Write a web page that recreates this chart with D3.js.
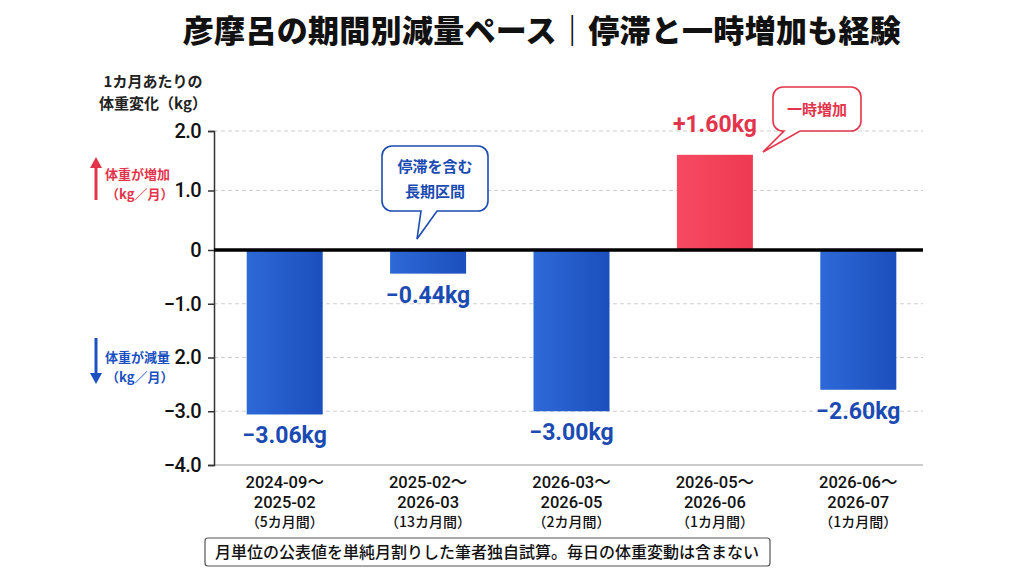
<!DOCTYPE html>
<html>
<head>
<meta charset="utf-8">
<script src="https://cdn.jsdelivr.net/npm/d3@7"></script>
<style>
  html, body { margin: 0; padding: 0; background: #fff; }
  svg { display: block; font-family: "Noto Sans CJK JP", "Noto Sans", sans-serif; }
</style>
</head>
<body>
<div id="chart"></div>
<script>
// periods (3 lines each) and per-month change
var periodStart = ["2024-09～", "2025-02～", "2026-03～", "2026-05～", "2026-06～"];
var periodEnd   = ["2025-02", "2026-03", "2026-05", "2026-06", "2026-07"];
var periodLen   = ["（5カ月間）", "（13カ月間）", "（2カ月間）", "（1カ月間）", "（1カ月間）"];
var changes     = [-3.06, -0.44, -3.00, 1.60, -2.60];
var valueLabels = ["−3.06kg", "−0.44kg", "−3.00kg", "+1.60kg", "−2.60kg"];
var tickValues  = [2, 1, 0, -1, -2, -3, -4];
var tickLabels  = ["2.0", "1.0", "0", "−1.0", "2.0", "−3.0", "−4.0"];

var width = 1024, height = 576;
var blueText = "#1b4bb2", redText = "#e2344b";

var svg = d3.select("#chart").append("svg")
  .attr("width", width)
  .attr("height", height);

var defs = svg.append("defs");
function grad(id, c1, c2){
  var g = defs.append("linearGradient").attr("id", id)
    .attr("x1", "0%").attr("x2", "100%").attr("y1", "0%").attr("y2", "0%");
  g.append("stop").attr("offset", "0%").attr("stop-color", c1);
  g.append("stop").attr("offset", "100%").attr("stop-color", c2);
}
grad("gBlue", "#2e69d8", "#1b4fbd");
grad("gRed", "#f64a62", "#ee3a52");

var x = d3.scaleBand()
  .domain(d3.range(changes.length))
  .range([213, 930])
  .paddingInner(0.47)
  .paddingOuter(0.235);

// chart is drawn with a different spacing above and below zero
var y = d3.scaleLinear()
  .domain([-4, 0, 2])
  .range([465, 250, 131]);

var plotLeft = 214, plotRight = 923;

// title
svg.append("text")
  .attr("x", 542).attr("y", 42)
  .attr("text-anchor", "middle")
  .style("font-size", "31px")
  .style("font-weight", 900)
  .style("letter-spacing", "0.3px")
  .attr("fill", "#111")
  .text("彦摩呂の期間別減量ペース｜停滞と一時増加も経験");

// axis title
var yt = svg.append("text")
  .attr("text-anchor", "middle")
  .style("font-size", "15px")
  .style("font-weight", 700)
  .attr("fill", "#222");
yt.append("tspan").attr("x", 153).attr("y", 87).text("1カ月あたりの");
yt.append("tspan").attr("x", 153).attr("y", 109).text("体重変化（kg）");

// grid lines
svg.append("g").selectAll("line")
  .data(tickValues.filter(function(d){ return d != 0 && d != -4; }))
  .enter().append("line")
  .attr("x1", plotLeft).attr("x2", plotRight)
  .attr("y1", function(d){ return y(d); })
  .attr("y2", function(d){ return y(d); })
  .attr("stroke", "#cfcfcf")
  .attr("stroke-dasharray", "4,3");

// bottom line
svg.append("line")
  .attr("x1", plotLeft).attr("x2", plotRight)
  .attr("y1", y(-4)).attr("y2", y(-4))
  .attr("stroke", "#999").attr("stroke-width", 1.2);

// y axis
var yAxis = d3.axisLeft(y)
  .tickValues(tickValues)
  .tickSize(6)
  .tickPadding(7)
  .tickFormat(function(d, i){ return tickLabels[i]; });

var ya = svg.append("g")
  .attr("transform", "translate(" + plotLeft + ",0)")
  .call(yAxis);
ya.select(".domain").attr("stroke", "#333").attr("stroke-width", 1.5);
ya.selectAll(".tick line").attr("stroke", "#333").attr("stroke-width", 1.5);
ya.selectAll(".tick text")
  .attr("fill", "#111")
  .style("font-size", "20px")
  .style("font-weight", 500)
  .style("letter-spacing", "-0.6px")
  .style("font-family", "Roboto, 'Noto Sans', sans-serif");

// bars
svg.append("g").selectAll("rect")
  .data(changes)
  .enter().append("rect")
  .attr("x", function(d, i){ return x(i); })
  .attr("width", x.bandwidth())
  .attr("y", function(d){ return y(Math.max(0, d)); })
  .attr("height", function(d){ return Math.abs(y(d) - y(0)); })
  .attr("fill", function(d){ return d > 0 ? "url(#gRed)" : "url(#gBlue)"; });

// zero line
svg.append("line")
  .attr("x1", plotLeft).attr("x2", plotRight)
  .attr("y1", y(0)).attr("y2", y(0))
  .attr("stroke", "#000").attr("stroke-width", 3.5);

// value labels
svg.append("g").selectAll("text")
  .data(changes)
  .enter().append("text")
  .attr("x", function(d, i){ return x(i) + x.bandwidth()/2; })
  .attr("y", function(d){ return d > 0 ? y(d) - 23 : y(d) + 29; })
  .attr("text-anchor", "middle")
  .style("font-size", "23px")
  .style("font-weight", 700)
  .style("font-family", "Roboto, 'Noto Sans', sans-serif")
  .attr("fill", function(d){ return d > 0 ? redText : blueText; })
  .text(function(d, i){ return valueLabels[i]; });

// x labels, one text per line
function xLine(arr, yPos, size, font){
  svg.append("g").selectAll("text")
    .data(arr)
    .enter().append("text")
    .attr("x", function(d, i){ return x(i) + x.bandwidth()/2; })
    .attr("y", yPos)
    .attr("text-anchor", "middle")
    .attr("fill", "#111")
    .style("font-size", size)
    .style("font-weight", 500)
    .style("font-family", font)
    .text(function(d){ return d; });
}
xLine(periodStart, 488, "16.5px", "Roboto, 'Noto Sans CJK JP', sans-serif");
xLine(periodEnd, 508, "16.5px", "Roboto, 'Noto Sans CJK JP', sans-serif");
xLine(periodLen, 527, "14px", "'Noto Sans CJK JP', sans-serif");

// direction hints at left
function hint(color, yTop, yBot, up, lines, textY){
  var g = svg.append("g");
  var tipY = up ? yTop : yBot, tailY = up ? yBot : yTop;
  var dir = up ? 1 : -1;
  g.append("line")
    .attr("x1", 96).attr("x2", 96)
    .attr("y1", tailY).attr("y2", tipY + dir*10)
    .attr("stroke", color).attr("stroke-width", 3);
  g.append("path")
    .attr("d", "M90," + (tipY + dir*11) + " L102," + (tipY + dir*11) + " L96," + tipY + " Z")
    .attr("fill", color);
  var t = g.append("text")
    .attr("fill", color)
    .style("font-size", "13px")
    .style("font-weight", 700);
  t.append("tspan").attr("x", 105).attr("y", textY).text(lines[0]);
  t.append("tspan").attr("x", 106).attr("y", textY + 20).text(lines[1]);
}
hint(redText, 157, 200, true, ["体重が増加", "（kg／月）"], 179);
hint("#1a50c0", 338, 384, false, ["体重が減量", "（kg／月）"], 362);

// callouts
function callout(left, top, right, bottom, tailA, tailB, tipX, tipY, color, lines){
  var r = 10;
  var p = d3.path();
  p.moveTo(left + r, top);
  p.lineTo(right - r, top);
  p.arcTo(right, top, right, top + r, r);
  p.lineTo(right, bottom - r);
  p.arcTo(right, bottom, right - r, bottom, r);
  p.lineTo(tailB, bottom);
  p.lineTo(tipX, tipY);
  p.lineTo(tailA, bottom);
  p.lineTo(left + r, bottom);
  p.arcTo(left, bottom, left, bottom - r, r);
  p.lineTo(left, top + r);
  p.arcTo(left, top, left + r, top, r);
  p.closePath();
  svg.append("path")
    .attr("d", p.toString())
    .attr("fill", "#fff")
    .attr("stroke", color)
    .attr("stroke-width", 1.6);
  var cx = (left + right) / 2;
  var n = lines.length;
  var mid = (top + bottom) / 2;
  svg.append("g").selectAll("text")
    .data(lines)
    .enter().append("text")
    .attr("x", cx)
    .attr("y", function(d, i){ return mid + (i - (n - 1)/2) * 25 + 6; })
    .attr("text-anchor", "middle")
    .attr("fill", color)
    .style("font-size", "15px")
    .style("font-weight", 700)
    .text(function(d){ return d; });
}
callout(382, 146, 488, 211, 421, 437, 417, 239, blueText, ["停滞を含む", "長期区間"]);
callout(773, 87, 861, 131, 784, 800, 763, 152, redText, ["一時増加"]);

// footnote
svg.append("rect")
  .attr("x", 205).attr("y", 538)
  .attr("width", 565).attr("height", 28)
  .attr("rx", 3)
  .attr("fill", "#fff")
  .attr("stroke", "#555")
  .attr("stroke-width", 1.2);
svg.append("text")
  .attr("x", 487).attr("y", 558)
  .attr("text-anchor", "middle")
  .attr("fill", "#111")
  .style("font-size", "16px")
  .style("font-weight", 500)
  .text("月単位の公表値を単純月割りした筆者独自試算。毎日の体重変動は含まない");
</script>
</body>
</html>
